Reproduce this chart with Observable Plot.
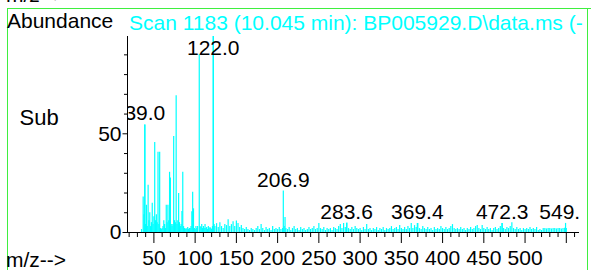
<!DOCTYPE html>
<html><head><meta charset="utf-8">
<script src="https://cdn.jsdelivr.net/npm/d3@7"></script>
<script src="https://cdn.jsdelivr.net/npm/@observablehq/plot@0.6"></script>
<style>
body{margin:0;background:#fff;font-family:"Liberation Sans",Arial,sans-serif;}
#wrap{position:relative;width:591px;height:270px;overflow:hidden;background:#fff;}
#chart{position:absolute;left:0;top:0;}
.t{position:absolute;white-space:nowrap;line-height:1;font-size:21px;color:#000;}
#frame{position:absolute;left:7px;top:8px;width:581px;height:300px;border-left:1.5px solid #3fef3f;border-right:1.5px solid #3fef3f;box-sizing:border-box;}
#topline{position:absolute;left:7px;top:7.5px;width:584px;height:0;border-top:1.5px solid #3fef3f;}
#titlebox{position:absolute;left:129px;top:11.5px;width:459px;height:24px;overflow:hidden;}
</style></head><body>
<div id="wrap">
  <div id="chart"></div>
  <div class="t" style="left:6px;top:-16.5px;">m/z--&gt;</div>
  <div id="ghost"></div>
  <div id="topline"></div>
  <div id="frame"></div>
  <div class="t" style="left:7px;top:9.5px;">Abundance</div>
  <div id="titlebox"><div class="t" style="left:0;top:0;color:#00ffff;">Scan 1183 (10.045 min): BP005929.D\data.ms (-</div></div>
  <div class="t" style="left:19.5px;top:107px;font-size:22px;">Sub</div>
  <div class="t" style="left:6px;top:248.7px;font-size:21px;">m/z--&gt;</div>
</div>
<script>
// Major peaks (m/z, relative abundance)
const peakMz = [35, 37, 38, 39, 40, 41, 42, 43, 44, 45, 46, 47, 48, 49, 50, 51, 52, 53, 54, 55, 56, 57, 58, 59, 60, 61, 62, 63, 64, 65, 66, 67, 68, 69, 70, 71, 72, 73, 74, 75, 76, 77, 78, 79, 80, 81, 82, 83, 84, 85, 86, 87, 88, 89, 90, 91, 92, 93, 94, 95, 96, 97, 98, 99, 100, 101, 102, 103, 105, 106, 107, 108, 109, 110, 111, 112, 113, 114, 115, 116, 117, 118, 119, 120, 121, 122, 123];
const peakAb = [1.5, 18, 9, 54.5, 4, 13.8, 3, 24, 6, 10, 3, 5, 14.8, 4, 8, 45.6, 6, 9, 5, 40.6, 4, 40.6, 2, 1.5, 2, 3, 6, 4, 2, 13.8, 5, 13.8, 6, 30.5, 27.6, 4, 3, 4, 48.6, 6, 5, 69.3, 4, 6, 19.8, 5, 3, 4, 10.7, 30.5, 3, 2, 1.5, 2, 1.5, 2.5, 1.5, 2, 2, 3, 10.5, 20.4, 12, 2, 1.5, 3, 2, 3, 90, 3, 2.5, 4, 2, 3, 2, 4, 2, 2.5, 1.5, 3, 2, 2.5, 2, 1.5, 3, 100, 4];
// Low-level noise at even m/z from 124 to 550
const noiseStart = 124;
const noiseAb = [3, 4.5, 2.5, 5, 3, 2, 4, 3.5, 6.5, 3, 4, 5.5, 3, 5.8, 4.5, 2.5, 3.5, 2, 1.5, 2.5,
  1.5, 1, 2, 1.5, 1, 2, 3, 1.5, 4, 2, 1, 2.5, 1.5, 2, 1, 3, 1.5, 2, 1.5, 2.5,
  1.5, 2, 3, 2, 1.5, 2.5, 1, 2, 3, 1.5, 2, 1, 2.5, 1.5, 2, 1, 1.5, 2.5, 1.5, 2,
  3, 1.5, 2, 4.5, 2, 1.5, 2.5, 1, 2, 1.5, 2, 1, 2.5, 2, 1.5, 3, 4, 2, 4.5, 2.5,
  4.8, 2, 1.5, 2.5, 1.5, 3, 2, 1.5, 2, 1, 2.5, 1.5, 4, 1.5, 2, 1, 2, 1.5, 2.5, 1,
  2, 1.5, 2.5, 1, 2, 1.5, 2, 3, 1.5, 2, 2.5, 1.5, 3.5, 2, 1.5, 2.5, 1.5, 3, 2, 4.5,
  2, 3.5, 2.5, 4.5, 2, 1.5, 3, 2, 1.5, 2.5, 1.5, 2, 1, 2.5, 1.5, 2, 1.5, 3, 2, 1.5,
  2.5, 1.5, 2, 3, 4, 2, 1.5, 2, 1.5, 2.5, 1.5, 2, 1, 2, 1.5, 2.5, 1.5, 2, 3, 3.5,
  2, 1.5, 3.5, 2, 1.5, 2.5, 1.5, 2, 1, 2, 2.5, 1.5, 2, 3, 4.5, 2, 1.5, 2.5, 2, 3,
  5, 2, 1.5, 2.5, 1.5, 2, 1, 2, 1.5, 2, 1.5, 2.5, 1.5, 2, 1.5, 2.5, 1, 1.5, 1, 2,
  2, 1.8, 2, 2, 1.8, 2, 2, 1.8, 2, 2, 1.8, 2, 2.2, 2];
// Labelled peaks
const labelMz = [39.0, 122.0, 206.9, 283.6, 369.4, 472.3, 549.1];
const labelAb = [54.5, 100, 21, 4.6, 4.6, 4.6, 4.6];
const extraMz = [209];
const extraAb = [7.6];
// Axis ticks
const xMinorTicks = [20,30,40,60,70,80,90,110,120,130,140,160,170,180,190,210,220,230,240,260,270,280,290,310,320,330,340,360,370,380,390,410,420,430,440,460,470,480,490,510,520,530,540,560];
const xMajorTicks = [50,100,150,200,250,300,350,400,450,500,550];
const xTickLabels = ["50","100","150","200","250","300","350","400","450","500",""];
const yMinorTicks = [10,20,30,40,60,70,80,90];
const yMajorTicks = [0,50];
const xDomain = [18, 566];
const yDomain = [0, 99.3];

const spectrum = [];
peakMz.forEach((m, i) => spectrum.push({mz: m, ab: peakAb[i]}));
noiseAb.forEach((a, i) => spectrum.push({mz: noiseStart + 2 * i, ab: a}));
labelMz.forEach((m, i) => spectrum.push({mz: m, ab: labelAb[i]}));
extraMz.forEach((m, i) => spectrum.push({mz: m, ab: extraAb[i]}));
const labels = labelMz.map((m, i) => ({mz: m, ab: labelAb[i], text: m.toFixed(1)}));

const chart = Plot.plot({
  width: 591, height: 270,
  marginLeft: 127, marginRight: 12, marginTop: 36, marginBottom: 38,
  x: {domain: xDomain},
  y: {domain: yDomain},
  style: {fontFamily: "'Liberation Sans', Arial, sans-serif", fontSize: "21px", color: "#000", background: "transparent", overflow: "visible"},
  marks: [
    Plot.ruleX(spectrum, {x: "mz", y1: 0, y2: "ab", stroke: "#00ffff", strokeWidth: 1.2, clip: true}),
    Plot.ruleY([0], {stroke: "#000", strokeWidth: 1}),
    Plot.ruleX([xDomain[0]], {y1: yDomain[0], y2: yDomain[1], stroke: "#000", strokeWidth: 1}),
    Plot.axisX(xMinorTicks, {tickSize: 5, tickFormat: () => "", label: null}),
    Plot.axisX(xMajorTicks, {tickSize: 11, tickPadding: 7, tickFormat: (d) => xTickLabels[xMajorTicks.indexOf(d)], label: null, fontSize: 21}),
    Plot.axisY(yMinorTicks, {tickSize: 3, tickFormat: () => "", label: null}),
    Plot.axisY(yMajorTicks, {tickSize: 4.5, tickPadding: 1.5, label: null, fontSize: 21}),
    Plot.text(labels, {x: "mz", y: d => Math.min(d.ab, 87.4), text: "text", lineAnchor: "bottom", dy: -4.5, fontSize: 21, fill: "#000", clip: true})
  ]
});
document.getElementById("chart").appendChild(chart);

// cut-off tick labels of the panel above
const xs = chart.scale("x");
const ghost = document.getElementById("ghost");
xMajorTicks.forEach((v, i) => {
  if (!xTickLabels[i]) return;
  const d = document.createElement("div");
  d.className = "t";
  d.style.color = "#888";
  d.textContent = xTickLabels[i];
  d.style.top = "-19px";
  d.style.left = "0px";
  ghost.appendChild(d);
  const w = d.getBoundingClientRect().width;
  d.style.left = (xs.apply(v) - w / 2) + "px";
});
</script>
</body></html>
